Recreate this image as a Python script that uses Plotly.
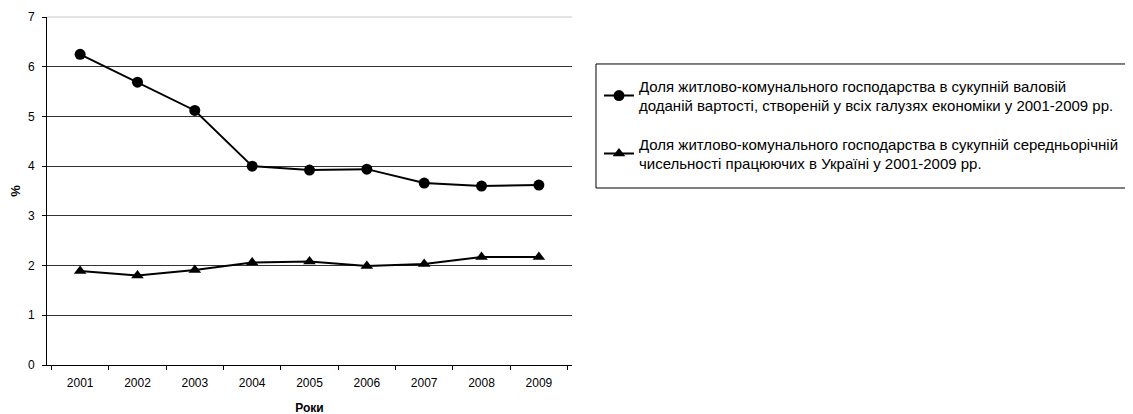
import plotly.graph_objects as go

years = ["2001", "2002", "2003", "2004", "2005", "2006", "2007", "2008", "2009"]
share_gva = [6.25, 5.69, 5.12, 4.0, 3.92, 3.94, 3.66, 3.60, 3.62]
share_employed = [1.89, 1.80, 1.91, 2.06, 2.08, 1.99, 2.03, 2.17, 2.17]
name_gva = "Доля житлово-комунального господарства в сукупній валовій<br>доданій вартості, створеній у всіх галузях економіки у 2001-2009 рр."
name_emp = "Доля житлово-комунального господарства в сукупній середньорічній<br>чисельності працюючих в Україні у 2001-2009 рр."

font_family = "Liberation Sans, Arial, sans-serif"

fig = go.Figure()
fig.add_trace(go.Scatter(
    x=years, y=share_gva, mode="lines+markers", name=name_gva, legendgroup="a",
    line=dict(color="black", width=2),
    marker=dict(symbol="circle", size=11, color="black"),
))
fig.add_trace(go.Scatter(
    x=years, y=share_employed, mode="lines+markers", name=name_emp, legendgroup="b",
    line=dict(color="black", width=2),
    marker=dict(symbol="triangle-up", size=11, color="black"),
))

fig.update_layout(
    width=1133, height=414,
    margin=dict(l=39, r=569, t=9, b=57, autoexpand=False),
    paper_bgcolor="white", plot_bgcolor="white",
    font=dict(family=font_family, size=12, color="black"),
    showlegend=True,
    legend=dict(
        x=1.0514, y=0.849, xanchor="left", yanchor="top",
        borderwidth=0, bgcolor="rgba(0,0,0,0)",
        font=dict(family=font_family, size=15, color="black"),
        traceorder="grouped", tracegroupgap=16,
        itemwidth=30,
    ),
    xaxis=dict(
        type="category", tickson="boundaries", ticks="outside", ticklen=4,
        tickcolor="black", showline=True, linecolor="black", linewidth=1,
        showgrid=False, tickfont=dict(size=12), automargin=False,
        ticklabelstandoff=7,
        title=dict(text="<b>Роки</b>", font=dict(size=12), standoff=14),
    ),
    yaxis=dict(
        range=[0, 7], dtick=1, ticks="outside", ticklen=4, tickcolor="black",
        showline=True, linecolor="black", linewidth=1,
        showgrid=True, gridcolor="#333333", gridwidth=1, zeroline=False,
        tickfont=dict(size=12), automargin=False, ticklabelstandoff=5,
        title=dict(text="<b>%</b>", font=dict(size=13), standoff=16),
    ),
)
fig.add_shape(type="line", xref="x domain", yref="y domain", x0=0, x1=1, y0=1, y1=1,
              line=dict(color="#c8c8c8", width=1))
# legend frame
fig.add_shape(type="rect", xref="paper", yref="paper", x0=1.0457, x1=2.0629, y0=0.5086, y1=0.865,
              line=dict(color="black", width=1), fillcolor="rgba(0,0,0,0)", layer="above")

fig.write_html("out.html")
